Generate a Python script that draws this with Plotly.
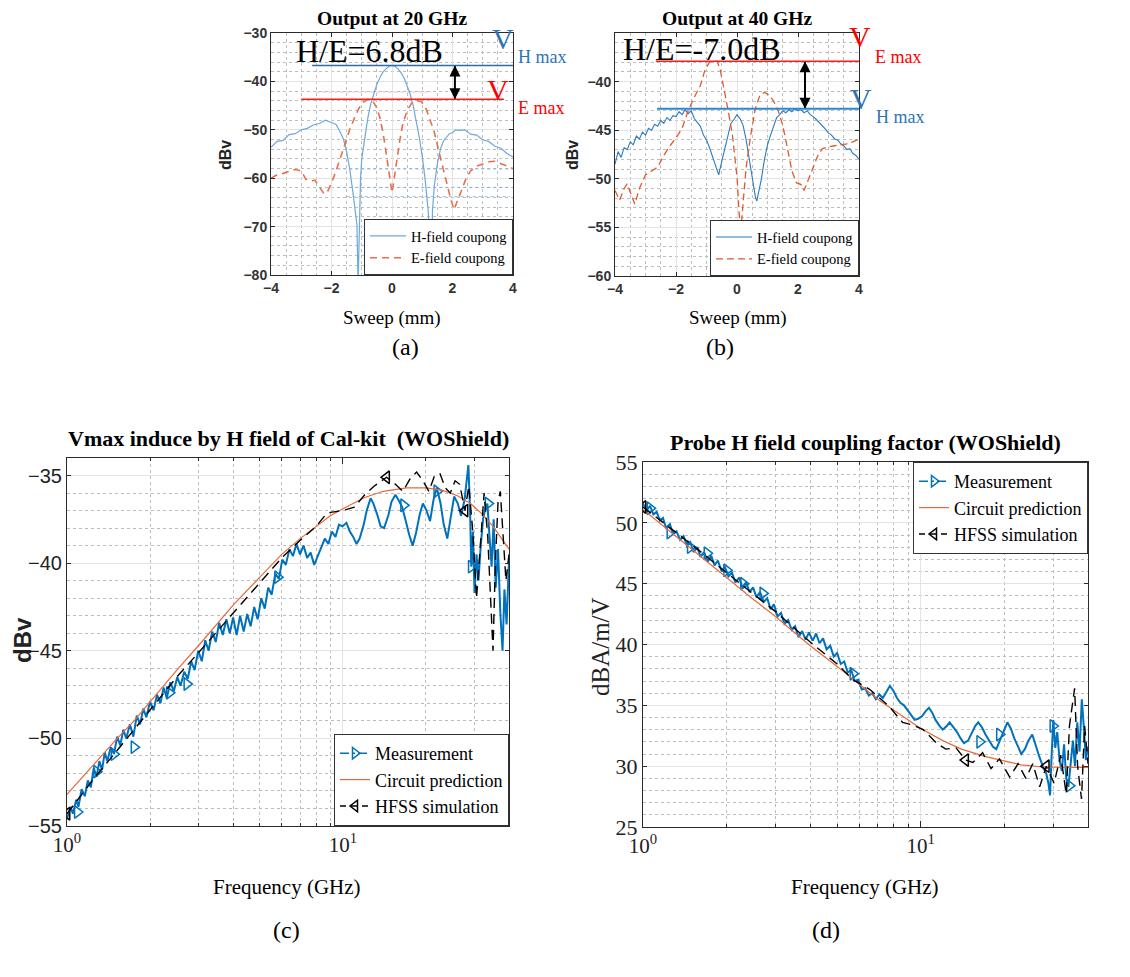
import math
import plotly.graph_objects as go

# page body has an 8 px margin: the figure is placed at (8, 8) in the window
OFF = 8
W, H = 1130 - 2 * OFF, 977 - 2 * OFF
SERIF = "Liberation Serif"
SANS = "Liberation Sans"

# ---------------- (a) Output at 20 GHz ----------------
A_X_H = [-4.0, -3.8, -3.6, -3.4, -3.2, -3.0, -2.8, -2.6, -2.4, -2.2, -2.0, -1.85, -1.7, -1.6, -1.5,
         -1.4, -1.3, -1.22, -1.16, -1.12, -1.08, -1.04, -1.0, -0.9, -0.8, -0.7, -0.6, -0.5, -0.4,
         -0.3, -0.2, -0.1, 0.0, 0.1, 0.2, 0.3, 0.4, 0.5, 0.6, 0.7, 0.8, 0.9, 1.0, 1.1, 1.2, 1.28,
         1.34, 1.4, 1.5, 1.6, 1.7, 1.8, 1.9, 2.0, 2.1, 2.2, 2.4, 2.6, 2.8, 3.0, 3.2, 3.4, 3.6, 3.8, 4.0]
A_Y_H = [-53.6, -52.4, -52.2, -51.0, -50.8, -50.0, -49.7, -49.0, -48.7, -48.0, -48.5, -48.9, -50.6,
         -52.0, -54.5, -58.0, -62.5, -66.5, -69.5, -82.0, -68.0, -60.0, -56.0, -51.5, -47.6, -44.6,
         -42.4, -40.6, -39.2, -38.1, -37.4, -36.9, -36.7, -36.9, -37.4, -38.2, -39.3, -40.8, -42.6,
         -45.0, -48.0, -51.5, -55.5, -60.5, -67.0, -82.0, -66.5, -61.5, -57.0, -54.0, -52.3, -51.6,
         -50.8, -50.6, -50.0, -50.1, -50.0, -50.9, -51.1, -52.1, -52.4, -53.4, -53.8, -54.9, -55.6]
A_X_E = [-4.0, -3.8, -3.6, -3.4, -3.2, -3.0, -2.85, -2.7, -2.55, -2.4, -2.25, -2.15, -2.0, -1.85,
         -1.7, -1.55, -1.4, -1.25, -1.1, -0.95, -0.8, -0.65, -0.5, -0.4, -0.3, -0.2, -0.1, -0.03,
         0.0, 0.05, 0.15, 0.25, 0.35, 0.5, 0.65, 0.8, 0.95, 1.1, 1.25, 1.4, 1.55, 1.7, 1.85, 1.95,
         2.05, 2.15, 2.3, 2.45, 2.6, 2.8, 3.0, 3.2, 3.4, 3.6, 3.8, 4.0]
A_Y_E = [-60.0, -59.3, -59.0, -58.6, -58.2, -58.5, -60.2, -60.6, -60.4, -61.8, -63.2, -63.0, -61.0,
         -58.5, -55.5, -52.6, -50.0, -47.7, -45.6, -44.3, -43.7, -43.9, -45.5, -47.5, -50.5, -54.5,
         -58.5, -61.5, -63.0, -61.0, -56.5, -52.5, -49.0, -46.0, -44.5, -44.0, -44.1, -45.2, -47.8,
         -50.5, -54.5, -58.5, -62.0, -64.5, -66.5, -65.0, -62.5, -60.0, -58.5, -57.5, -57.0, -56.6,
         -56.5, -57.0, -57.4, -58.0]

# ---------------- (b) Output at 40 GHz ----------------
B_X_H = [-4.0, -3.9, -3.8, -3.7, -3.6, -3.5, -3.4, -3.3, -3.2, -3.1, -3.0, -2.9, -2.8, -2.7, -2.6,
         -2.5, -2.4, -2.3, -2.2, -2.1, -2.0, -1.9, -1.8, -1.7, -1.6, -1.5, -1.4, -1.3, -1.2, -1.1,
         -1.0, -0.9, -0.8, -0.7, -0.6, -0.5, -0.4, -0.3, -0.2, -0.1, 0.0, 0.1, 0.2, 0.3, 0.4, 0.5,
         0.6, 0.65, 0.7, 0.8, 0.9, 1.0, 1.1, 1.2, 1.3, 1.4, 1.5, 1.6, 1.7, 1.8, 1.9, 2.0, 2.1, 2.2,
         2.3, 2.4, 2.5, 2.6, 2.7, 2.8, 2.9, 3.0, 3.1, 3.2, 3.3, 3.4, 3.5, 3.6, 3.7, 3.8, 3.9, 4.0]
B_Y_H = [-48.5, -47.2, -47.8, -46.8, -47.0, -46.2, -46.5, -45.6, -45.9, -45.2, -45.5, -44.8, -45.0,
         -44.4, -44.6, -44.0, -44.3, -43.7, -44.0, -43.5, -43.6, -43.1, -43.4, -42.9, -43.3, -43.0,
         -43.8, -44.2, -44.6, -45.5, -46.0, -46.8, -47.8, -48.8, -49.6, -48.2, -47.0, -45.6, -44.3,
         -43.9, -43.4, -43.8, -44.5, -46.0, -48.0, -50.2, -51.8, -52.3, -51.5, -50.0, -48.0, -46.5,
         -45.5, -44.6, -43.7, -43.4, -43.0, -43.2, -42.9, -43.1, -42.8, -43.0, -42.9, -43.2, -43.0,
         -43.4, -43.6, -43.9, -44.2, -44.6, -44.9, -45.3, -45.5, -45.9, -46.0, -46.4, -46.6, -47.0,
         -46.9, -47.4, -47.6, -48.0]
B_X_E = [-4.0, -3.85, -3.7, -3.6, -3.45, -3.35, -3.2, -3.0, -2.8, -2.6, -2.4, -2.2, -2.0, -1.8,
         -1.6, -1.4, -1.2, -1.05, -0.9, -0.75, -0.65, -0.55, -0.45, -0.3, -0.15, 0.0, 0.07, 0.12,
         0.2, 0.3, 0.45, 0.6, 0.75, 0.9, 1.05, 1.2, 1.35, 1.5, 1.65, 1.8, 1.95, 2.1, 2.2, 2.35, 2.5,
         2.65, 2.8, 3.0, 3.2, 3.4, 3.6, 3.8, 4.0]
B_Y_E = [-51.2, -52.2, -51.0, -50.5, -51.8, -52.6, -51.0, -49.6, -49.2, -48.8, -47.6, -46.6, -45.8,
         -44.8, -43.0, -41.6, -40.4, -38.8, -38.0, -37.9, -37.9, -38.8, -40.3, -42.8, -45.5, -49.8,
         -53.5, -55.6, -52.5, -48.8, -45.5, -42.8, -41.4, -41.1, -41.4, -42.0, -43.0, -44.5, -46.8,
         -49.2, -50.4, -50.6, -51.2, -50.0, -48.6, -47.6, -46.9, -46.7, -46.6, -46.5, -46.4, -46.2,
         -45.9]

# ---------------- (c) Vmax induced by H field ----------------
C_F_MEAS = [1.00, 1.03, 1.05, 1.08, 1.10, 1.13, 1.16, 1.19, 1.22, 1.25, 1.28, 1.31, 1.34, 1.37, 1.40,
            1.44, 1.48, 1.52, 1.56, 1.60, 1.64, 1.69, 1.74, 1.79, 1.84, 1.89, 1.94, 2.00, 2.06, 2.12,
            2.18, 2.24, 2.30, 2.37, 2.44, 2.51, 2.58, 2.66, 2.74, 2.82, 2.90, 2.99, 3.08, 3.17, 3.26,
            3.36, 3.46, 3.56, 3.67, 3.78, 3.89, 4.00, 4.12, 4.24, 4.37, 4.50, 4.63, 4.77, 4.91, 5.06,
            5.21, 5.36, 5.52, 5.69, 5.86, 6.03, 6.21, 6.40, 6.59, 6.79, 6.99, 7.20, 7.42, 7.64, 7.87,
            8.10, 8.35, 8.60, 8.86, 9.12, 9.40, 9.68, 9.97, 10.3, 10.6, 10.9, 11.2, 11.5, 11.9, 12.2,
            12.6, 12.9, 13.3, 13.7, 14.1, 14.6, 15.0, 15.5, 15.9, 16.4, 16.9, 17.4, 17.9, 18.4, 19.0,
            19.5, 20.1, 20.7, 21.3, 21.9, 22.6, 23.2, 23.9, 24.6, 25.3, 26.1, 26.8, 27.6, 28.1, 28.5,
            28.9, 29.2, 29.6, 30.0, 30.5, 31.0, 31.6, 32.2, 32.8, 33.4, 34.0, 34.6, 35.2, 35.8, 36.5,
            37.2, 37.9, 38.5, 39.2, 40.0]
C_V_MEAS = [-54.6, -53.9, -54.3, -53.5, -53.9, -52.9, -53.3, -52.4, -52.8, -51.7, -52.2, -51.3, -51.8,
            -50.8, -51.3, -50.5, -50.9, -49.9, -50.4, -49.5, -50.0, -49.2, -49.9, -48.7, -49.2, -48.3,
            -48.8, -47.9, -48.4, -47.5, -48.0, -47.1, -47.7, -46.8, -47.3, -46.5, -47.0, -46.2, -46.6,
            -45.6, -46.1, -45.0, -45.6, -44.4, -45.0, -43.9, -44.5, -43.4, -44.1, -43.2, -44.0, -43.1,
            -44.1, -43.0, -43.9, -42.9, -43.6, -42.5, -43.2, -42.0, -42.6, -41.4, -41.8, -40.6, -40.9,
            -39.8, -40.1, -39.2, -39.6, -38.9, -39.5, -39.0, -39.7, -39.4, -40.1, -39.6, -39.0, -38.6,
            -38.9, -38.2, -38.5, -37.8, -37.9, -37.7, -38.2, -38.5, -38.9, -38.6, -37.8, -37.0, -36.3,
            -36.6, -37.2, -37.9, -38.0, -37.3, -36.5, -36.1, -36.4, -36.8, -37.6, -38.4, -39.0, -38.3,
            -37.2, -36.6, -37.0, -37.6, -36.4, -35.7, -36.6, -37.8, -38.6, -37.5, -36.2, -36.6, -37.3,
            -36.4, -35.2, -34.4, -37.0, -40.2, -38.2, -41.7, -39.5, -41.0, -39.0, -37.5, -36.9, -36.6,
            -38.5, -40.2, -37.5, -41.4, -39.2, -42.8, -45.0, -41.5, -43.5, -39.8]
C_F_MEAS_MK = [1.09, 1.28, 1.48, 1.75, 2.35, 2.72, 5.8, 16.6, 21.9, 29.2, 33.6]
C_V_MEAS_MK = [-54.2, -51.9, -50.9, -50.5, -47.4, -46.9, -40.8, -36.7, -35.9, -40.2, -36.6]
C_F_CIRC = [1.0, 1.25, 1.5, 1.75, 2.0, 2.5, 3.0, 3.5, 4.0, 5.0, 6.0, 7.0, 8.0, 9.0, 10.0, 12.0,
            14.0, 17.0, 20.0, 23.0, 26.0, 29.0, 32.0, 35.0, 38.0, 40.0]
C_V_CIRC = [-53.2, -51.5, -50.1, -49.0, -47.9, -46.1, -44.7, -43.5, -42.4, -40.8, -39.5, -38.6,
            -37.9, -37.3, -36.9, -36.25, -35.9, -35.7, -35.7, -35.85, -36.15, -36.6, -37.2, -37.9,
            -38.7, -39.2]
C_F_HFSS = [1.0, 1.25, 1.5, 2.0, 2.5, 3.0, 3.5, 4.0, 5.0, 6.0, 7.0, 8.0, 8.6, 9.0, 10.0, 11.0,
            12.0, 13.0, 14.4, 15.5, 16.5, 17.5, 18.5, 19.5, 20.5, 21.5, 22.5, 23.5, 24.5, 25.5, 26.5,
            27.7, 28.6, 29.5, 30.5, 31.5, 32.5, 33.5, 34.3, 35.0, 35.7, 36.5, 37.2, 38.0, 39.0, 40.0]
C_V_HFSS = [-54.3, -52.3, -50.8, -48.4, -46.5, -45.1, -43.9, -42.9, -41.1, -39.7, -38.7, -37.9,
            -37.3, -37.1, -37.0, -36.8, -36.1, -35.6, -35.1, -35.5, -35.9, -35.2, -34.8, -35.3,
            -35.9, -35.0, -34.9, -35.7, -36.0, -35.3, -35.5, -37.0, -35.6, -38.0, -42.0, -39.0,
            -36.0, -38.5, -42.0, -45.0, -40.0, -36.5, -35.9, -38.0, -41.0, -39.5]
C_F_HFSS_MK = [1.0, 14.4, 27.7]
C_V_HFSS_MK = [-54.3, -35.1, -37.0]

# ---------------- (d) Probe H field coupling factor ----------------
D_F_MEAS = [1.00, 1.03, 1.06, 1.09, 1.12, 1.15, 1.18, 1.21, 1.25, 1.28, 1.32, 1.36, 1.40, 1.44, 1.48,
            1.52, 1.57, 1.61, 1.66, 1.71, 1.76, 1.81, 1.86, 1.92, 1.97, 2.03, 2.09, 2.15, 2.22, 2.28,
            2.35, 2.42, 2.49, 2.56, 2.64, 2.72, 2.80, 2.88, 2.96, 3.05, 3.14, 3.23, 3.33, 3.43, 3.53,
            3.63, 3.74, 3.85, 3.96, 4.08, 4.20, 4.32, 4.45, 4.58, 4.72, 4.86, 5.00, 5.15, 5.30, 5.46,
            5.62, 5.78, 5.95, 6.13, 6.31, 6.50, 6.69, 6.89, 7.09, 7.30, 7.52, 7.74, 7.97, 8.21, 8.45,
            8.70, 8.96, 9.22, 9.50, 9.78, 10.1, 10.4, 10.7, 11.0, 11.3, 11.7, 12.0, 12.4, 12.7, 13.1,
            13.5, 13.9, 14.3, 14.8, 15.2, 15.7, 16.1, 16.6, 17.1, 17.6, 18.2, 18.7, 19.3, 19.9, 20.5,
            21.1, 21.7, 22.4, 23.0, 23.7, 24.4, 25.2, 25.9, 26.7, 27.5, 28.3, 28.8, 29.2, 29.6, 30.0,
            30.5, 31.0, 31.6, 32.2, 32.8, 33.4, 34.0, 34.6, 35.3, 35.9, 36.6, 37.3, 38.0, 38.7, 39.3,
            40.0]
D_V_MEAS = [51.6, 51.0, 51.4, 50.7, 50.9, 50.2, 50.4, 49.6, 49.9, 49.1, 49.3, 48.6, 48.9, 48.1, 48.4,
            47.6, 48.0, 47.2, 47.6, 46.8, 47.3, 46.5, 46.9, 46.0, 46.4, 45.6, 45.9, 45.1, 45.5, 44.7,
            45.1, 44.3, 44.7, 43.9, 44.3, 43.5, 43.8, 42.9, 43.3, 42.3, 42.6, 41.7, 42.0, 41.2, 41.5,
            40.6, 41.1, 40.4, 41.0, 40.3, 40.9, 40.1, 40.5, 39.6, 39.9, 39.0, 39.3, 38.4, 38.6, 37.7,
            37.9, 37.0, 37.1, 36.3, 36.4, 35.8, 36.0, 35.5, 35.9, 35.6, 36.1, 36.6, 36.2, 35.6, 35.2,
            35.0, 34.6, 34.2, 33.8, 33.9, 34.1, 34.5, 34.8, 34.4, 33.8, 33.3, 33.0, 33.3, 33.6, 33.2,
            32.8, 32.3, 31.9, 32.1, 32.7, 33.3, 33.6, 33.2, 32.6, 32.1, 31.6, 31.4, 32.2, 33.0, 33.6,
            33.1, 32.3, 31.6, 31.0, 31.4, 32.1, 32.6, 31.7, 30.8, 30.0, 29.4, 28.6, 27.6, 31.0, 33.8,
            31.5, 32.8, 30.5, 29.6, 31.8, 29.0, 28.3, 30.2, 32.1, 30.0, 33.6, 31.2, 35.5, 33.0, 30.5,
            31.6]
D_F_MEAS_MK = [1.06, 1.25, 1.48, 1.70, 2.0, 2.3, 2.7, 5.7, 16.3, 19.2, 29.9, 34.3]
D_V_MEAS_MK = [51.2, 49.2, 48.0, 47.5, 46.1, 45.0, 44.2, 37.6, 32.0, 32.6, 33.3, 28.4]
D_F_CIRC = [1.0, 1.25, 1.5, 2.0, 2.5, 3.0, 4.0, 5.0, 6.0, 7.0, 8.0, 9.0, 10.0, 12.0, 14.0, 17.0,
            20.0, 23.0, 27.0, 32.0, 40.0]
D_V_CIRC = [51.1, 49.3, 47.8, 45.5, 43.7, 42.3, 39.9, 38.2, 36.7, 35.5, 34.6, 33.8, 33.1, 32.1,
            31.4, 30.8, 30.4, 30.1, 29.95, 29.9, 29.9]
D_F_HFSS = [1.0, 1.25, 1.5, 2.0, 2.5, 3.0, 4.0, 5.0, 5.7, 6.56, 7.7, 8.6, 9.3, 10.2, 11.4, 12.3,
            13.4, 14.5, 15.4, 16.7, 17.9, 19.2, 20.9, 22.4, 23.9, 25.3, 26.8, 28.3, 30.2, 31.9, 33.4,
            34.3, 35.8, 36.7, 37.9, 38.9, 40.0]
D_V_HFSS = [51.3, 49.6, 48.2, 45.9, 44.1, 42.7, 40.2, 38.4, 37.1, 36.3, 34.9, 33.6, 33.4, 33.0,
            31.9, 31.4, 31.5, 30.5, 30.3, 31.1, 29.8, 30.6, 29.1, 30.2, 29.0, 30.2, 28.3, 30.0, 28.6,
            30.9, 27.7, 33.3, 36.4, 30.0, 27.3, 33.3, 30.2]
D_F_HFSS_MK = [1.0, 14.5, 28.3]
D_V_HFSS_MK = [51.3, 30.5, 30.0]

# ---------------- helpers (window pixel -> paper) ----------------
def X(p):
    return (p - OFF) / W


def Y(p):
    return 1 - (p - OFF) / H


DOM = {
    "a": ((271, 513), (33, 275)),
    "b": ((615, 859), (33, 276)),
    "c": ((67, 509), (458, 826)),
    "d": ((643, 1088), (462, 827)),
}


def xdom(k):
    return [X(DOM[k][0][0]), X(DOM[k][0][1])]


def ydom(k):
    return [Y(DOM[k][1][1]), Y(DOM[k][1][0])]


AXC = "#2b2b2b"
GRID = "#e3e3e3"
MINOR = "#bdbdbd"


def lin_axis(dom, rng, tickvals, tick0, mdt, font, anchor):
    return dict(domain=dom, range=rng, tickmode="array", tickvals=tickvals, ticks="inside",
                ticklen=4, tickcolor=AXC, showline=True, linecolor=AXC, linewidth=1,
                mirror="allticks", showgrid=True, gridcolor=GRID, zeroline=False, tickfont=font,
                anchor=anchor, fixedrange=True, automargin=False,
                minor=dict(tickmode="linear", tick0=tick0, dtick=mdt, showgrid=True,
                           gridcolor=MINOR, griddash="dot", ticks=""))


def log_axis(dom, font, anchor):
    return dict(type="log", domain=dom, range=[0, math.log10(40)], tickmode="array",
                tickvals=[1, 10], ticktext=["10<sup>0</sup>", "10<sup>1</sup>"], ticks="inside",
                ticklen=6, tickcolor=AXC, showline=True, linecolor=AXC, linewidth=1,
                mirror="allticks", showgrid=True, gridcolor=GRID, zeroline=False, tickfont=font,
                anchor=anchor, fixedrange=True, automargin=False,
                minor=dict(tickmode="array", tickvals=[2, 3, 4, 5, 6, 7, 8, 9, 20, 30, 40],
                           showgrid=True, gridcolor=MINOR, griddash="dot", ticks="inside",
                           ticklen=3, tickcolor=AXC))


fig = go.Figure()

MEAS = "#0072BD"
CIRC = "#E8683A"

# (a) traces
fig.add_trace(go.Scatter(x=A_X_H, y=A_Y_H, mode="lines", name="H-field coupong",
                         line=dict(color="#6FA8DC", width=1.2), xaxis="x", yaxis="y",
                         legend="legend"))
fig.add_trace(go.Scatter(x=A_X_E, y=A_Y_E, mode="lines", name="E-field coupong",
                         line=dict(color="#E8704A", width=1.6, dash="7px,5px"), xaxis="x",
                         yaxis="y", legend="legend"))
# (b) traces
fig.add_trace(go.Scatter(x=B_X_H, y=B_Y_H, mode="lines", name="H-field coupong",
                         line=dict(color="#2B7BBF", width=1.1), xaxis="x2", yaxis="y2",
                         legend="legend2"))
fig.add_trace(go.Scatter(x=B_X_E, y=B_Y_E, mode="lines", name="E-field coupong",
                         line=dict(color="#DE5A2A", width=1.3, dash="7px,4px"), xaxis="x2",
                         yaxis="y2", legend="legend2"))


def freq_panel(xa, ya, leg, fm, vm, fmk, vmk, fc, vc, fh, vh, fhk, vhk):
    fig.add_trace(go.Scatter(x=fm, y=vm, mode="lines", line=dict(color=MEAS, width=2.0),
                             xaxis=xa, yaxis=ya, showlegend=False))
    fig.add_trace(go.Scatter(x=fmk, y=vmk, mode="markers",
                             marker=dict(symbol="triangle-right-open", size=11, color=MEAS,
                                         line=dict(width=1.5, color=MEAS)),
                             xaxis=xa, yaxis=ya, showlegend=False))
    fig.add_trace(go.Scatter(x=fc, y=vc, mode="lines", line=dict(color=CIRC, width=1.2),
                             xaxis=xa, yaxis=ya, showlegend=False))
    fig.add_trace(go.Scatter(x=fh, y=vh, mode="lines",
                             line=dict(color="black", width=1.4, dash="10px,6px"),
                             xaxis=xa, yaxis=ya, showlegend=False))
    fig.add_trace(go.Scatter(x=fhk, y=vhk, mode="markers",
                             marker=dict(symbol="triangle-left-open", size=11, color="black",
                                         line=dict(width=1.5, color="black")),
                             xaxis=xa, yaxis=ya, showlegend=False))
    # legend entries
    fig.add_trace(go.Scatter(x=[None], y=[None], mode="lines+markers", name="Measurement",
                             line=dict(color=MEAS, width=1.5, dash="dashdot"),
                             marker=dict(symbol="triangle-right-open", size=10, color=MEAS,
                                         line=dict(width=1.5, color=MEAS)),
                             xaxis=xa, yaxis=ya, legend=leg))
    fig.add_trace(go.Scatter(x=[None], y=[None], mode="lines", name="Circuit prediction",
                             line=dict(color=CIRC, width=1.2), xaxis=xa, yaxis=ya, legend=leg))
    fig.add_trace(go.Scatter(x=[None], y=[None], mode="lines+markers", name="HFSS simulation",
                             line=dict(color="black", width=1.4, dash="6px,5px"),
                             marker=dict(symbol="triangle-left-open", size=10, color="black",
                                         line=dict(width=1.5, color="black")),
                             xaxis=xa, yaxis=ya, legend=leg))


freq_panel("x3", "y3", "legend3", C_F_MEAS, C_V_MEAS, C_F_MEAS_MK, C_V_MEAS_MK, C_F_CIRC,
           C_V_CIRC, C_F_HFSS, C_V_HFSS, C_F_HFSS_MK, C_V_HFSS_MK)
freq_panel("x4", "y4", "legend4", D_F_MEAS, D_V_MEAS, D_F_MEAS_MK, D_V_MEAS_MK, D_F_CIRC,
           D_V_CIRC, D_F_HFSS, D_V_HFSS, D_F_HFSS_MK, D_V_HFSS_MK)

a_hmax, a_emax = max(A_Y_H), max(A_Y_E)
b_hmax, b_emax = max(B_Y_H), max(B_Y_E)

# double arrows between the two maxima (arrow symbols have their tip on the point)
for xa, ya, xv, ytop, ybot in [("x", "y", 2.08, a_hmax, a_emax),
                               ("x2", "y2", 2.23, b_emax, b_hmax)]:
    fig.add_trace(go.Scatter(x=[xv, xv], y=[ytop, ybot], mode="lines+markers",
                             line=dict(color="black", width=2),
                             marker=dict(symbol=["arrow-up", "arrow-down"], size=11,
                                         color="black"),
                             xaxis=xa, yaxis=ya, showlegend=False, hoverinfo="skip"))

tick_ab = dict(family=SANS, size=14, color="#333333", weight="bold")
tick_c = dict(family=SANS, size=20, color="#222222")
tick_d = dict(family=SERIF, size=22, color="#222222")
tick_log = dict(family=SERIF, size=21, color="#222222")


def legend_box(right, bottom, size, top=None, itemwidth=30):
    d = dict(xref="paper", yref="paper", x=X(right), xanchor="right", bgcolor="white",
             bordercolor="#333333", borderwidth=1, font=dict(family=SERIF, size=size, color="black"),
             tracegroupgap=0, itemclick=False, itemdoubleclick=False, itemwidth=itemwidth)
    if top is None:
        d.update(y=Y(bottom), yanchor="bottom")
    else:
        d.update(y=Y(top), yanchor="top")
    return d


fig.update_layout(
    width=W, height=H, margin=dict(l=0, r=0, t=0, b=0, autoexpand=False),
    paper_bgcolor="white", plot_bgcolor="white",
    xaxis=lin_axis(xdom("a"), [-4, 4], [-4, -2, 0, 2, 4], -4, 0.5, tick_ab, "y"),
    yaxis=lin_axis(ydom("a"), [-80, -30], [-80, -70, -60, -50, -40, -30], -80, 2, tick_ab, "x"),
    xaxis2=lin_axis(xdom("b"), [-4, 4], [-4, -2, 0, 2, 4], -4, 0.5, tick_ab, "y2"),
    yaxis2=lin_axis(ydom("b"), [-60, -35], [-60, -55, -50, -45, -40], -60, 1, tick_ab, "x2"),
    xaxis3=log_axis(xdom("c"), tick_log, "y3"),
    yaxis3=lin_axis(ydom("c"), [-55, -34], [-55, -50, -45, -40, -35], -55, 1, tick_c, "x3"),
    xaxis4=log_axis(xdom("d"), tick_log, "y4"),
    yaxis4=lin_axis(ydom("d"), [25, 55], [25, 30, 35, 40, 45, 50, 55], 25, 1, tick_d, "x4"),
    legend=legend_box(513, 275, 14.5, itemwidth=36),
    legend2=legend_box(859, 276, 14.5, itemwidth=36),
    legend3=legend_box(509, 826, 18),
    legend4=legend_box(1088, 0, 18, top=462),
    showlegend=True,
)

ann = []


def txt(text, x, y, size, family=SERIF, color="black", angle=0):
    ann.append(dict(text=text, x=X(x), y=Y(y), xref="paper", yref="paper", showarrow=False,
                    xanchor="center", yanchor="middle", textangle=angle,
                    font=dict(family=family, size=size, color=color)))


# titles
txt("<b>Output at 20 GHz</b>", 392, 19, 19.5)
txt("<b>Output at 40 GHz</b>", 737, 19, 19.5)
txt("<b>Vmax induce by H field of Cal-kit  (WOShield)</b>", 288, 438, 22)
txt("<b>Probe H field coupling factor (WOShield)</b>", 865, 442, 22)
# axis titles
txt("<b>dBv</b>", 226, 155, 16, SANS, "#222222", -90)
txt("<b>dBv</b>", 573, 155, 16, SANS, "#222222", -90)
txt("<b>dBv</b>", 22, 640, 24, SANS, "#222222", -90)
txt("dBA/m/V", 600, 647, 25, SERIF, "#222222", -90)
txt("Sweep (mm)", 392, 318, 19)
txt("Sweep (mm)", 738, 318, 19)
txt("Frequency (GHz)", 287, 887, 21)
txt("Frequency (GHz)", 865, 887, 21)
# captions
txt("(a)", 405, 347, 24)
txt("(b)", 720, 347, 24)
txt("(c)", 286, 930, 24)
txt("(d)", 826, 930, 24)
# H/E labels
BLUE_T = "#2E75B6"
RED_T = "#FF0000"
txt("H/E=6.8dB", 369, 51, 32)
txt("H/E=-7.0dB", 702, 49, 32)
txt("V", 503, 39, 30, SERIF, BLUE_T)
txt("H max", 542, 57, 18, SERIF, BLUE_T)
txt("V", 498, 90, 30, SERIF, RED_T)
txt("E max", 541, 108, 18, SERIF, RED_T)
txt("V", 860, 37, 30, SERIF, RED_T)
txt("E max", 898, 57, 18, SERIF, RED_T)
txt("V", 861, 98, 30, SERIF, BLUE_T)
txt("H max", 900, 117, 18, SERIF, BLUE_T)
fig.update_layout(annotations=ann)

shapes = []


def hline(xr, yr, x0, x1, yv, color, width=1.5, dash="solid", opacity=1.0):
    shapes.append(dict(type="line", xref=xr, yref=yr, x0=x0, x1=x1, y0=yv, y1=yv,
                       line=dict(color=color, width=width, dash=dash), opacity=opacity))


hline("x", "y", -2.64, 4.0, a_hmax, "#2E6EA6", 1.6)
hline("x", "y", -3.0, 3.7, a_emax, "#FF1A1A", 1.6)
hline("x2", "y2", -2.66, 4.0, b_emax, "#FF1A1A", 1.6)
hline("x2", "y2", -2.62, 4.0, b_hmax, "#2E86D0", 2.0)
# faint dotted guide lines in (a)
hline("x", "y", -2.5, 1.3, -42.2, "#FF8080", 1, "dot", 0.6)
hline("x", "y", -2.0, 4.0, -58.1, "#7FB2E6", 1, "dot", 0.8)
hline("x", "y", -1.8, 3.9, -61.9, "#7FB2E6", 1, "dot", 0.8)
hline("x", "y", -1.5, 3.9, -63.8, "#7FB2E6", 1, "dot", 0.8)
fig.update_layout(shapes=shapes)

fig.write_html("out.html")
